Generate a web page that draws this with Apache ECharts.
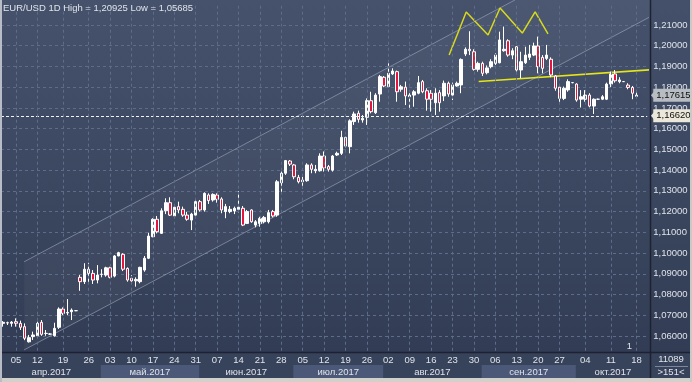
<!DOCTYPE html>
<html><head><meta charset="utf-8">
<script src="https://cdn.jsdelivr.net/npm/echarts@6/dist/echarts.min.js"></script>
<style>html,body{margin:0;padding:0;background:#3b4762;overflow:hidden}#c{width:692px;height:382px}</style>
</head><body><div id="c"></div>
<script>
// ---- data ----
const opens = [1.0661,1.0664,1.0661,1.0669,1.0661,1.0645,1.0572,1.0597,1.0601,1.0666,
1.0613,1.0609,1.0601,1.0642,1.0730,1.0711,1.0717,1.0722,1.0883,1.0862,
1.0922,1.0902,1.0870,1.0897,1.0894,1.0929,1.0889,1.0986,1.0994,1.0926,
1.0878,1.0866,1.0862,1.0918,1.0975,1.1079,1.1163,1.1095,1.1204,1.1243,
1.1179,1.1224,1.1211,1.1183,1.1159,1.1183,1.1248,1.1208,1.1280,1.1256,
1.1280,1.1261,1.1200,1.1200,1.1203,1.1211,1.1216,1.1143,1.1208,1.1135,
1.1143,1.1151,1.1151,1.1200,1.1183,1.1339,1.1385,1.1444,1.1425,1.1365,
1.1344,1.1349,1.1425,1.1397,1.1397,1.1468,1.1417,1.1400,1.1473,1.1481,
1.1558,1.1513,1.1634,1.1674,1.1642,1.1655,1.1735,1.1677,1.1767,1.1848,
1.1803,1.1864,1.1875,1.1790,1.1800,1.1754,1.1762,1.1771,1.1827,1.1783,
1.1771,1.1725,1.1774,1.1758,1.1819,1.1762,1.1806,1.1811,1.1960,1.1983,
1.1971,1.1886,1.1915,1.1870,1.1899,1.1915,1.1918,1.1976,1.2024,1.1955,
1.1995,1.1883,1.1918,1.1944,1.1955,1.1999,1.1944,1.1939,1.1935,1.1854,
1.1800,1.1746,1.1787,1.1822,1.1815,1.1742,1.1742,1.1762,1.1709,1.1742,
1.1742,1.1742,1.1815,1.1864,1.1827,1.1827,1.1810,1.1799,1.1756];
const closes = [1.0666,1.0663,1.0667,1.0661,1.0642,1.0589,1.0592,1.0605,1.0661,1.0608,
1.0612,1.0610,1.0637,1.0730,1.0709,1.0713,1.0725,1.0722,1.0862,1.0922,
1.0902,1.0870,1.0894,1.0898,1.0929,1.0883,1.0986,1.1002,1.0922,1.0870,
1.0866,1.0873,1.0931,1.0975,1.1082,1.1163,1.1103,1.1204,1.1243,1.1183,
1.1221,1.1208,1.1183,1.1163,1.1188,1.1248,1.1208,1.1288,1.1253,1.1283,
1.1259,1.1208,1.1224,1.1211,1.1216,1.1221,1.1135,1.1200,1.1151,1.1151,
1.1167,1.1172,1.1195,1.1179,1.1344,1.1385,1.1446,1.1429,1.1368,1.1344,
1.1352,1.1425,1.1404,1.1404,1.1468,1.1410,1.1404,1.1468,1.1481,1.1558,
1.1516,1.1638,1.1671,1.1645,1.1650,1.1735,1.1682,1.1762,1.1851,1.1806,
1.1867,1.1878,1.1778,1.1802,1.1758,1.1762,1.1778,1.1822,1.1778,1.1742,
1.1742,1.1771,1.1725,1.1819,1.1767,1.1811,1.1819,1.1934,1.1983,1.1976,
1.1886,1.1915,1.1867,1.1893,1.1923,1.1955,1.2028,1.1983,1.1955,1.1976,
1.1883,1.1923,1.1955,1.1960,1.1999,1.1899,1.1891,1.1955,1.1859,1.1795,
1.1746,1.1795,1.1827,1.1822,1.1738,1.1754,1.1762,1.1709,1.1742,1.1742,
1.1754,1.1815,1.1864,1.1831,1.1835,1.1827,1.1799,1.1771,1.17615];
const lows = [1.0645,1.0653,1.0645,1.0645,1.0629,1.0580,1.05685,1.0581,1.0597,1.0601,
1.0601,1.0605,1.0597,1.0634,1.0701,1.0701,1.0677,1.0720,1.0818,1.0851,
1.0854,1.0851,1.0854,1.0883,1.0886,1.0878,1.0883,1.0985,1.0913,1.0862,
1.0854,1.0838,1.0854,1.0910,1.0971,1.1076,1.1095,1.1092,1.1188,1.1179,
1.1172,1.1192,1.1175,1.1156,1.1111,1.1175,1.1200,1.1200,1.1237,1.1248,
1.1243,1.1192,1.1168,1.1192,1.1188,1.1194,1.1130,1.1140,1.1146,1.1124,
1.1127,1.1143,1.1143,1.1172,1.1175,1.1291,1.1377,1.1420,1.1356,1.1336,
1.1312,1.1344,1.1385,1.1385,1.1393,1.1393,1.1393,1.1393,1.1468,1.1473,
1.1510,1.1481,1.1618,1.1629,1.1629,1.1618,1.1674,1.1671,1.1730,1.1800,
1.1800,1.1859,1.1730,1.1778,1.1714,1.1693,1.1706,1.1766,1.1771,1.1687,
1.1682,1.1666,1.1682,1.1733,1.1754,1.1738,1.1803,1.1771,1.1950,1.1955,
1.1880,1.1875,1.1854,1.1862,1.1891,1.1907,1.1915,1.1971,1.1947,1.1935,
1.1875,1.1843,1.1912,1.1931,1.1950,1.1867,1.1867,1.1931,1.1848,1.1783,
1.1722,1.1738,1.1778,1.1819,1.1730,1.1702,1.1730,1.1703,1.1671,1.1740,
1.1738,1.1738,1.1800,1.1822,1.1819,1.1825,1.1790,1.1742,1.1754];
const highs = [1.0672,1.0669,1.0672,1.0685,1.0674,1.0661,1.0605,1.0621,1.0669,1.0677,
1.0629,1.0614,1.0664,1.0738,1.0738,1.0778,1.0733,1.0724,1.0894,1.0951,
1.0953,1.0918,1.0942,1.0922,1.0934,1.0934,1.0990,1.1006,1.0999,1.0931,
1.0894,1.0883,1.0934,1.0986,1.1098,1.1168,1.1179,1.1216,1.1264,1.1269,
1.1232,1.1248,1.1224,1.1199,1.1194,1.1256,1.1256,1.1293,1.1288,1.1288,
1.1288,1.1269,1.1237,1.1227,1.1224,1.1299,1.1227,1.1208,1.1211,1.1159,
1.1175,1.1179,1.1208,1.1208,1.1352,1.1393,1.1449,1.1449,1.1430,1.1377,
1.1368,1.1433,1.1433,1.1425,1.1481,1.1490,1.1425,1.1473,1.1489,1.1590,
1.1561,1.1645,1.1682,1.1687,1.1666,1.1746,1.1778,1.1771,1.1859,1.1854,
1.1915,1.1891,1.1880,1.1811,1.1827,1.1771,1.1786,1.1854,1.1835,1.1795,
1.1786,1.1795,1.1786,1.1832,1.1827,1.1822,1.1827,1.1939,1.1992,1.2070,
1.1983,1.1923,1.1923,1.1905,1.1935,1.1964,1.2068,1.20925,1.2031,1.1988,
1.1999,1.1971,1.1995,1.2004,1.2015,1.2044,1.1955,1.2004,1.1944,1.1859,
1.1806,1.1803,1.1838,1.1825,1.1819,1.1786,1.1786,1.1771,1.1746,1.1745,
1.1762,1.1822,1.1875,1.1883,1.1848,1.1830,1.1819,1.1806,1.1778];

const SLOTS = 151; // bars shown incl. right shift
const categories = Array.from({length: SLOTS}, (_, i) => String(i));
const tickBars   = [3,8,14,20,25,30,35,40,45,50,55,60,65,70,75,80,85,90,95,100,105,110,115,120,125,130,136,142,148];
const tickLabels = ['05','12','19','26','03','10','17','24','31','07','14','21','28','05','12','19','26','02','09','16','23','30','06','13','20','27','04','11','18'];
const monthNames = ['апр.2017','май.2017','июн.2017','июл.2017','авг.2017','сен.2017','окт.2017'];
const monthStartBars = [0, 23, 46, 68, 89, 112, 134];
const hLinePrice = 1.16620;
const lastPrice = 1.17615;
const channelUpper = [[4.9, 1.0958], [119.6, 1.2221]];
const channelLower = [[4.9, 1.0533], [151.2, 1.2140]];
const zigzag = [[104.2, 1.1955], [108.2, 1.2163], [113.3, 1.2052], [116.1, 1.2182], [121.3, 1.2061], [124.3, 1.2163], [127.3, 1.2057]];
const neckline = [[111.1, 1.1827], [151.2, 1.1884]];

const FONT = 'Liberation Sans, Arial, sans-serif';
const TXT = '#dfe3ea';
const GRIDC = '#5d6c89';
const fmtP = v => v.toFixed(5).replace('.', ',');
const tickMap = {}; tickBars.forEach((b, i) => tickMap[b] = tickLabels[i]);
const ohlc = opens.map((o, i) => [o, closes[i], lows[i], highs[i]]);

const chart = echarts.init(document.getElementById('c'), null, {renderer: 'canvas'});
const lineSer = (data, color, width, extra) => Object.assign({
  type: 'line', xAxisIndex: 1, yAxisIndex: 0, data, symbol: 'none', showSymbol: false,
  clip: false, silent: true, lineStyle: {color, width}, z: 3
}, extra || {});
const boxLabel = bg => ({show: true, position: 'end', distance: 6, formatter: p => fmtP(p.value),
  backgroundColor: bg, color: '#101010', padding: [2, 3, 1, 3], fontSize: 9.5, fontFamily: FONT});

chart.setOption({
  animation: false,
  backgroundColor: 'transparent',
  title: {text: 'EUR/USD 1D High = 1,20925 Low = 1,05685', left: 3, top: 3, padding: 0,
          textStyle: {color: TXT, fontSize: 9.5, fontWeight: 'normal', fontFamily: FONT}},
  grid: {left: 1, right: 44.72, top: 4.27, bottom: 25.27, containLabel: false, outerBoundsMode: 'none'},
  xAxis: [
    {type: 'category', data: categories, boundaryGap: true, position: 'bottom',
     axisLine: {show: false}, axisTick: {show: false}, axisLabel: {show: false}, splitLine: {show: false}},
    {type: 'value', min: -0.5, max: SLOTS - 0.5, show: false, position: 'top'},
    {type: 'category', data: categories, boundaryGap: true, position: 'bottom', z: 6,
     axisLine: {show: false}, axisTick: {show: false}, splitLine: {show: false},
     axisLabel: {interval: (i) => i in tickMap, formatter: (v, i) => tickMap[i] || '',
                 color: TXT, fontSize: 9.5, fontFamily: FONT, margin: -1}}
  ],
  yAxis: {type: 'value', position: 'right', min: 1.05, max: 1.22, interval: 0.01, z: 1,
    axisLine: {show: false}, axisTick: {show: false},
    axisLabel: {formatter: fmtP, showMinLabel: false, showMaxLabel: false, color: TXT,
                fontSize: 9.5, fontFamily: FONT, margin: 6},
    splitLine: {show: true, showMinLine: false, showMaxLine: false,
                lineStyle: {color: GRIDC, type: [3, 3], width: 1}}},
  series: [
    {type: 'candlestick', name: 'EUR/USD', xAxisIndex: 0, yAxisIndex: 0, data: ohlc,
     barWidth: 3, clip: false, z: 4,
     itemStyle: {color: '#ffffff', color0: '#e3173e', borderColor: '#ffffff', borderColor0: '#ffffff', borderWidth: 1},
     markLine: {silent: true, symbol: 'none', animation: false, precision: 5,
       data: [
         {yAxis: hLinePrice, lineStyle: {color: '#f2f2f2', type: [3, 2], width: 1}, label: boxLabel('#ebe7d9')},
         {yAxis: lastPrice, lineStyle: {color: 'rgba(0,0,0,0)', width: 0}, label: boxLabel('#b8bcc3')}
       ]}},
    lineSer(channelUpper, 'rgba(170,180,200,0.55)', 1,
      {markLine: {silent: true, symbol: 'none', animation: false, precision: 3, label: {show: false},
                  lineStyle: {color: GRIDC, type: [3, 3], width: 1},
                  data: tickBars.map(b => ({xAxis: b}))}}),
    lineSer(channelLower, 'rgba(170,180,200,0.55)', 1),
    lineSer(zigzag, '#d9d91c', 1.5),
    lineSer(neckline, '#e4e41a', 1.5)
  ]
});

// ---- decoration placed through the chart's own scales ----
const P = (k, p) => chart.convertToPixel({seriesIndex: 1}, [k, p]);
const X = k => chart.convertToPixel({xAxisIndex: 1}, k);
const Y = p => chart.convertToPixel({yAxisIndex: 0}, p);
const PLOT_R = 650, AX_TOP = 352, AX_BOT = 378;
const els = [];
els.push({type: 'rect', z: -10, silent: true, shape: {x: 0, y: 0, width: PLOT_R, height: AX_TOP},
  style: {fill: new echarts.graphic.LinearGradient(0, 0, 0, 1, [{offset: 0, color: '#46526c'}, {offset: 1, color: '#323d55'}])}});
els.push({type: 'rect', z: -10, silent: true, shape: {x: PLOT_R, y: 0, width: 42, height: AX_TOP},
  style: {fill: new echarts.graphic.LinearGradient(0, 0, 0, 1, [{offset: 0, color: '#44506a'}, {offset: 1, color: '#323d55'}])}});
const cu0 = P(...channelUpper[0]), cu1 = P(...channelUpper[1]);
const cl0 = P(...channelLower[0]), cl1 = P(...channelLower[1]);
els.push({type: 'polygon', z: -9, silent: true,
  shape: {points: [cu0, cu1, [cl1[0], cu1[1]], cl1, cl0]}, style: {fill: 'rgba(255,255,255,0.035)'}});
// axis band
els.push({type: 'rect', z: 5, silent: true, shape: {x: 0, y: AX_TOP, width: 692, height: AX_BOT - AX_TOP}, style: {fill: '#37425b'}});
const bounds = monthStartBars.map((b, m) => m === 0 ? 2 : X(b - 0.2));
bounds.push(PLOT_R);
monthNames.forEach((name, m) => {
  const x0 = bounds[m], x1 = bounds[m + 1];
  if (m % 2 === 1) els.push({type: 'rect', z: 5, silent: true, shape: {x: x0, y: AX_TOP + 13, width: x1 - x0, height: 13}, style: {fill: '#4b5878'}});
  els.push({type: 'text', z: 7, silent: true, x: (x0 + x1) / 2, y: 372.5,
    style: {text: name, fill: TXT, font: '9.5px ' + FONT, align: 'center', verticalAlign: 'middle'}});
});
// separators
els.push({type: 'line', z: 8, silent: true, shape: {x1: 0, y1: AX_TOP + 0.5, x2: 692, y2: AX_TOP + 0.5}, style: {stroke: '#1c2231', lineWidth: 1.5}});
els.push({type: 'line', z: 8, silent: true, shape: {x1: PLOT_R + 0.5, y1: 0, x2: PLOT_R + 0.5, y2: AX_BOT}, style: {stroke: '#1c2231', lineWidth: 1.5}});
// bottom-right box
els.push({type: 'text', z: 8, silent: true, x: 671, y: 359.5, style: {text: '11089', fill: TXT, font: '9.5px ' + FONT, align: 'center', verticalAlign: 'middle'}});
els.push({type: 'line', z: 8, silent: true, shape: {x1: 655, y1: 366.5, x2: 688, y2: 366.5}, style: {stroke: '#7d879c', lineWidth: 1}});
els.push({type: 'text', z: 8, silent: true, x: 671, y: 372.5, style: {text: '>151<', fill: TXT, font: '9.5px ' + FONT, align: 'center', verticalAlign: 'middle'}});
// price label pointers
[[hLinePrice, '#ebe7d9'], [lastPrice, '#b8bcc3']].forEach(([p, c]) => {
  const y = Y(p);
  els.push({type: 'polygon', z: 9, silent: true, shape: {points: [[PLOT_R + 1, y], [PLOT_R + 6, y - 6], [PLOT_R + 6, y + 6]]}, style: {fill: c}});
});
// window number
els.push({type: 'text', z: 8, silent: true, x: X(146.3), y: 346, style: {text: '1', fill: TXT, font: '9.5px ' + FONT, align: 'center', verticalAlign: 'middle'}});
// outer frame
els.push({type: 'rect', z: 20, silent: true, shape: {x: 0, y: AX_BOT, width: 692, height: 4}, style: {fill: '#d2d0cb'}});
els.push({type: 'rect', z: 20, silent: true, shape: {x: 0, y: 0, width: 2, height: 382}, style: {fill: '#b7bcc6'}});
els.push({type: 'rect', z: 20, silent: true, shape: {x: 690, y: 0, width: 2, height: 382}, style: {fill: '#c9c9c6'}});
chart.setOption({graphic: {elements: els}});
</script></body></html>
